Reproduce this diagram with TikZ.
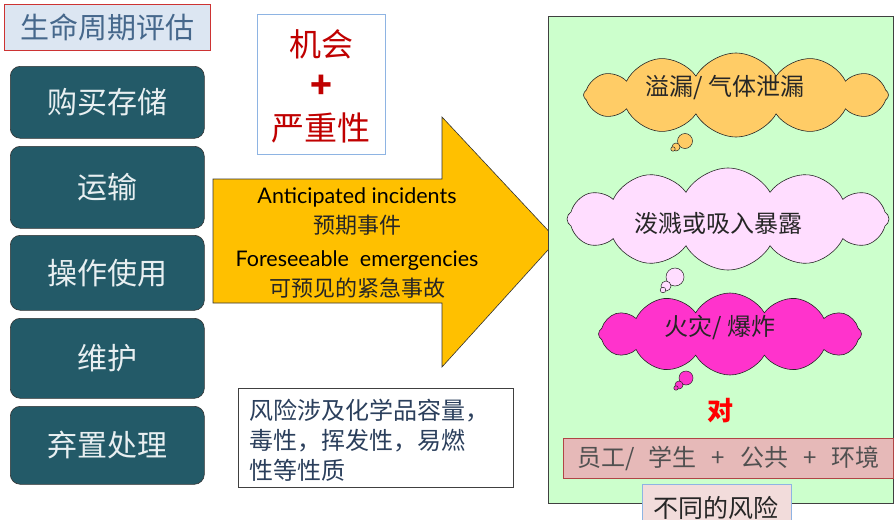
\documentclass[tikz,border=0pt]{standalone}
\usepackage{fontspec}
\setmainfont{Noto Sans CJK SC}
\newfontfamily\latinf{Lato}
\usetikzlibrary{shapes.symbols}
\definecolor{boxteal}{HTML}{235A68}
\definecolor{boxtxt}{HTML}{E8EFF1}
\definecolor{titlefill}{HTML}{DCE6F2}
\definecolor{titletxt}{HTML}{46688C}
\definecolor{darkred}{HTML}{C00000}
\definecolor{lightblue}{HTML}{8EB4E3}
\definecolor{arrowfill}{HTML}{FFC000}
\definecolor{panelgreen}{HTML}{CCFFCC}
\definecolor{cloudA}{HTML}{FFCC66}
\definecolor{cloudB}{HTML}{FFDDFF}
\definecolor{cloudC}{HTML}{FF33CC}
\definecolor{barfill}{HTML}{E6B9B8}
\definecolor{barline}{HTML}{B04545}
\definecolor{bartxt}{HTML}{505050}
\definecolor{labfill}{HTML}{F2DCDB}
\definecolor{notetxt}{HTML}{2B3F5C}
\begin{document}
\begin{tikzpicture}[x=1pt,y=-1pt,
  stagebox/.style={draw=black!80, line width=0.6pt, fill=boxteal, rounded corners=10pt,
    minimum width=194pt, anchor=north west, text=boxtxt, font=\fontsize{30}{34}\selectfont},
  cloudbox/.style={cloud, draw=black!85, line width=0.6pt, cloud puffs=12,
    cloud puff arc=120, aspect=3.6, inner sep=0pt},
  bubble/.style={draw=black!85, line width=0.5pt},
  cloudtxt/.style={text=black!85, font=\fontsize{24}{28}\selectfont},
]
\clip (0,0) rectangle (896,519);
\fill[white] (0,0) rectangle (896,519);

% title
\node[draw=darkred!80, line width=0.8pt, fill=titlefill, anchor=north west,
  minimum width=206pt, minimum height=46pt, inner sep=0pt, text=titletxt,
  font=\fontsize{29}{34}\selectfont] (title) at (4,4) {生命周期评估};

% stages
\node[stagebox, minimum height=72pt] (s1) at (10,66) {购买存储};
\node[stagebox, minimum height=82pt] (s2) at (10,146) {运输};
\node[stagebox, minimum height=75pt] (s3) at (10,235) {操作使用};
\node[stagebox, minimum height=80pt] (s4) at (10,318) {维护};
\node[stagebox, minimum height=78pt] (s5) at (10,406) {弃置处理};

% top box
\node[draw=lightblue, line width=0.8pt, fill=white, anchor=north west,
  minimum width=128pt, minimum height=140pt] (tb) at (257,14) {};
\node[text=darkred, font=\fontsize{32}{36}\selectfont] (tb1) at (321,44) {机会};
\node[text=darkred, font=\fontsize{36}{40}\selectfont\bfseries] (tb2) at (321,87) {+};
\node[text=darkred, font=\fontsize{33}{36}\selectfont] (tb3) at (321,128) {严重性};

% big arrow
\draw[fill=arrowfill, draw=black!80, line width=0.6pt]
  (213,179) -- (442,179) -- (442,117) -- (557,240) -- (442,367) -- (442,303) -- (213,303) -- cycle;
\node[font=\latinf\fontsize{21.5}{24}\selectfont] (a1) at (357,197) {Anticipated incidents};
\node[font=\fontsize{22}{24}\selectfont, text=black!85] (a2) at (357,225) {预期事件};
\node[font=\latinf\fontsize{21.5}{24}\selectfont] (a3) at (357,261) {Foreseeable\ \ emergencies};
\node[font=\fontsize{22}{24}\selectfont, text=black!85] (a4) at (357,288) {可预见的紧急事故};

% note box
\node[draw=black!75, line width=0.8pt, fill=white, anchor=north west,
  minimum width=275pt, minimum height=99pt] (nb) at (238,388) {};
\node[anchor=west, align=left, text=notetxt, font=\fontsize{24}{30}\selectfont]
  (nt) at (246,440) {风险涉及化学品容量，\\毒性，挥发性，易燃\\性等性质};

% right panel
\node[draw=black!75, line width=0.8pt, fill=panelgreen, anchor=north west,
  minimum width=345pt, minimum height=487pt] (panel) at (548,16) {};

% cloud 1
\node[cloudbox, fill=cloudA, minimum width=305pt, minimum height=84pt] (c1) at (736,95) {};
\draw[bubble, fill=cloudA] (685,141) circle (7.5);
\draw[bubble, fill=cloudA] (676,147) circle (4);
\draw[bubble, fill=cloudA] (673,149) circle (2.2);
\node[cloudtxt] (c1t) at (725,88) {溢漏/\ 气体泄漏};
% cloud 2
\node[cloudbox, fill=cloudB, minimum width=322pt, minimum height=102pt] (c2) at (728,219) {};
\draw[bubble, fill=cloudB] (675,277) circle (9);
\draw[bubble, fill=cloudB] (666,286) circle (5);
\draw[bubble, fill=cloudB] (663,290) circle (2.8);
\node[cloudtxt] (c2t) at (718,223) {泼溅或吸入暴露};
% cloud 3
\node[cloudbox, fill=cloudC, minimum width=263pt, minimum height=82pt] (c3) at (730,334) {};
\draw[bubble, fill=cloudC] (686,378) circle (7);
\draw[bubble, fill=cloudC] (679,385) circle (4);
\draw[bubble, fill=cloudC] (676,388) circle (2.2);
\node[cloudtxt] (c3t) at (720,327) {火灾/\ 爆炸};

\node[text=red, font=\fontsize{26}{30}\selectfont\bfseries] (dui) at (720,411) {对};

% bar
\node[draw=barline, line width=0.8pt, fill=barfill, anchor=north west,
  minimum width=330pt, minimum height=40pt, inner sep=0pt, text=bartxt,
  font=\fontsize{24}{28}\selectfont] (bar) at (563,438)
  {员工/\hspace{14pt}学生\hspace{15pt}+\hspace{15pt}公共\hspace{15pt}+\hspace{15pt}环境};

% bottom label
\node[draw=lightblue, line width=0.8pt, fill=labfill, anchor=north west,
  minimum width=149pt, minimum height=48pt, inner sep=0pt] (lab) at (642,484) {};
\node[text=black!85, font=\fontsize{25}{28}\selectfont] (labt) at (716,508) {不同的风险};
\end{tikzpicture}
\end{document}
